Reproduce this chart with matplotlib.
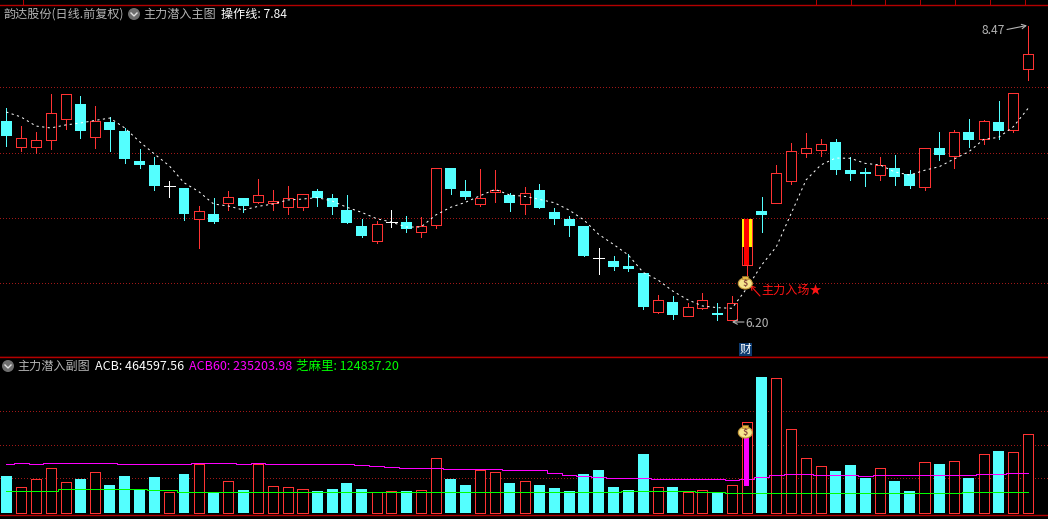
import matplotlib
matplotlib.use("Agg")
import matplotlib.pyplot as plt
import numpy as np
from matplotlib.patches import Circle, Ellipse, Rectangle
from matplotlib.lines import Line2D
from matplotlib.transforms import Affine2D

plt.rcParams['font.family'] = ['Noto Sans CJK SC', 'DejaVu Sans']

# daily candles
opens = [7.742, 7.546, 7.546, 7.594, 7.760, 7.872, 7.622, 7.735, 7.666, 7.436,
         7.406, 7.245, 7.230, 6.995, 7.031, 7.117, 7.153, 7.125, 7.115, 7.087,
         7.087, 7.207, 7.153, 7.061, 6.939, 6.827, 6.967, 6.969, 6.893, 6.946,
         7.383, 7.207, 7.107, 7.199, 7.176, 7.107, 7.214, 7.046, 6.992, 6.939,
         6.691, 6.671, 6.633, 6.579, 6.283, 6.357, 6.253, 6.311, 6.273, 6.222,
         6.640, 7.054, 7.117, 7.286, 7.500, 7.523, 7.582, 7.367, 7.350, 7.329,
         7.383, 7.337, 7.240, 7.536, 7.477, 7.658, 7.607, 7.735, 7.676, 8.143]
closes = [7.628, 7.610, 7.594, 7.801, 7.946, 7.666, 7.740, 7.673, 7.452, 7.406,
          7.245, 7.245, 7.031, 7.051, 6.969, 7.158, 7.092, 7.173, 7.130, 7.151,
          7.181, 7.153, 7.084, 6.962, 6.862, 6.951, 6.967, 6.916, 6.939, 7.380,
          7.222, 7.161, 7.153, 7.214, 7.115, 7.191, 7.077, 6.992, 6.939, 6.709,
          6.691, 6.625, 6.610, 6.319, 6.370, 6.258, 6.316, 6.370, 6.258, 6.347,
          6.992, 7.023, 7.342, 7.510, 7.533, 7.564, 7.367, 7.337, 7.339, 7.403,
          7.314, 7.245, 7.533, 7.482, 7.656, 7.597, 7.740, 7.666, 7.954, 8.253]
highs = [7.842, 7.704, 7.658, 7.949, 7.946, 7.934, 7.857, 7.770, 7.689, 7.528,
         7.467, 7.283, 7.230, 7.092, 7.153, 7.207, 7.153, 7.298, 7.214, 7.245,
         7.181, 7.222, 7.184, 7.176, 6.992, 6.977, 7.061, 7.015, 7.008, 7.380,
         7.383, 7.291, 7.375, 7.367, 7.191, 7.237, 7.260, 7.077, 7.015, 6.939,
         6.771, 6.709, 6.725, 6.579, 6.411, 6.403, 6.350, 6.426, 6.350, 6.403,
         6.992, 7.161, 7.406, 7.574, 7.651, 7.605, 7.605, 7.467, 7.380, 7.467,
         7.482, 7.367, 7.533, 7.658, 7.673, 7.758, 7.750, 7.895, 7.954, 8.470]
lows = [7.551, 7.513, 7.497, 7.528, 7.681, 7.612, 7.536, 7.513, 7.421, 7.383,
        7.214, 7.161, 6.985, 6.771, 6.962, 7.061, 7.046, 7.115, 7.061, 7.031,
        7.061, 7.092, 7.031, 6.962, 6.855, 6.809, 6.931, 6.893, 6.855, 6.923,
        7.184, 7.145, 7.092, 7.122, 7.054, 7.031, 7.077, 6.954, 6.862, 6.709,
        6.572, 6.602, 6.594, 6.304, 6.273, 6.227, 6.253, 6.304, 6.219, 6.222,
        6.564, 6.893, 7.117, 7.260, 7.467, 7.475, 7.337, 7.291, 7.245, 7.291,
        7.253, 7.230, 7.214, 7.444, 7.383, 7.543, 7.566, 7.605, 7.658, 8.056]
op_line = [7.811, 7.773, 7.704, 7.689, 7.712, 7.727, 7.747, 7.765, 7.689, 7.584,
           7.490, 7.400, 7.270, 7.202, 7.107, 7.092, 7.061, 7.089, 7.107, 7.138,
           7.145, 7.156, 7.130, 7.082, 7.043, 6.995, 6.969, 6.931, 6.931, 7.023,
           7.082, 7.120, 7.171, 7.219, 7.176, 7.166, 7.143, 7.117, 7.061, 6.985,
           6.875, 6.798, 6.717, 6.584, 6.526, 6.441, 6.375, 6.327, 6.314, 6.309,
           6.462, 6.640, 6.781, 7.036, 7.291, 7.406, 7.459, 7.457, 7.418, 7.406,
           7.352, 7.329, 7.365, 7.393, 7.452, 7.508, 7.602, 7.617, 7.699, 7.840]
price_grid = [6.5, 7.0, 7.5, 8.0]

# lower panel
acb = [218670, 151690, 198970, 263980, 181240, 200940, 240340, 165480, 218670, 135930,
       212760, 122140, 230490, 287620, 118200, 187150, 135930, 287620, 157600, 151690,
       139870, 130020, 141840, 177300, 141840, 122140, 128050, 130020, 133960, 323080,
       200940, 165480, 252160, 240340, 177300, 187150, 165480, 147750, 130020, 230490,
       254130, 153660, 135930, 348690, 151690, 153660, 122140, 133960, 122140, 163510,
       535840, 803760, 795880, 494470, 323080, 275800, 248220, 283680, 206850, 263980,
       189120, 130020, 299440, 289590, 305350, 206850, 346720, 366420, 358540, 464597.56]
acb_kind = list("crrrrcrccccrcrcrcrrrrccccrrcrrccrrcrccccccc"
                "crcrrcrrcrrrrccc" "rccrcrcrcrr")
acb60 = [287620, 293530, 287620, 293530, 293530, 293530, 293530, 293530, 287620, 287620,
         287620, 287620, 287620, 293530, 293530, 293530, 287620, 293530, 287620, 287620,
         287620, 287620, 287620, 287620, 281710, 275800, 269890, 263980, 263980, 263980,
         258070, 258070, 258070, 258070, 252160, 252160, 252160, 234430, 222610, 216700,
         210790, 204880, 204880, 204880, 198970, 198970, 198970, 198970, 198970, 193060,
         198970, 210790, 222610, 228520, 228520, 222610, 222610, 222610, 216700, 222610,
         222610, 222610, 222610, 222610, 222610, 222610, 228520, 228520, 235203.98, 235203.98]
sesame = [128050, 128050, 128050, 128050, 139870, 139870, 139870, 139870, 139870, 139870,
          133960, 133960, 122140, 122140, 122140, 122140, 122140, 122140, 122140, 122140,
          122140, 122140, 122140, 122140, 122140, 122140, 122140, 122140, 122140, 122140,
          122140, 122140, 122140, 122140, 122140, 122140, 122140, 122140, 122140, 122140,
          122140, 122140, 128050, 128050, 128050, 128050, 128050, 122140, 122140, 116230,
          116230, 116230, 116230, 116230, 116230, 116230, 116230, 116230, 116230, 116230,
          116230, 116230, 116230, 116230, 116230, 124837.2, 124837.2, 124837.2, 124837.2, 124837.2]
acb_grid = [205000, 400000, 601000]

signal_day = 50
signal_yellow_low = 6.778
signal_acb = (159570, 445220)

RED = '#ff3333'
CYAN = '#54ffff'
BORDER = '#b40000'
GRID = '#a01818'
GREY = '#b4b4b4'
PX = 0.72  # one pixel in points at dpi 100

n_days = len(opens)
x = np.arange(n_days)

fig = plt.figure(figsize=(10.48, 5.19), dpi=100, facecolor='black')
to_px = Affine2D().scale(1, -1).translate(0, 519)  # pixels from the top left


def make_panel(top, bottom):
    ax = fig.add_axes([0, 1 - bottom / 519, 1, (bottom - top) / 519], facecolor='black')
    ax.set_xlim(-6.3 / 14.81, (1048 - 6.3) / 14.81)
    ax.set_xticks([])
    for side in ['left', 'right']:
        ax.spines[side].set_visible(False)
    for side in ['top', 'bottom']:
        ax.spines[side].set_color(BORDER)
        ax.spines[side].set_linewidth(PX * 1.4)
    ax.tick_params(axis='y', length=0, labelleft=False)
    ax.grid(axis='y', color=GRID, linewidth=PX, linestyle=(0, (1, 2.2)), antialiased=False)
    ax.set_axisbelow(True)
    return ax


ax = make_panel(4.5, 357.3)
ax.set_ylim(5.934, 8.634)
ax.set_yticks(price_grid)

# Candles
for i in x:
    o, c, h, l = opens[i], closes[i], highs[i], lows[i]
    if o == c:
        color = 'white'
    elif c > o:
        color = RED
    else:
        color = CYAN
    ax.vlines(i, l, h, color=color, linewidth=PX, zorder=2, antialiased=False)
    if o == c:
        ax.hlines(o, i - 0.36, i + 0.36, color=color, linewidth=PX, zorder=3, antialiased=False)
    elif c > o:
        ax.bar(i, c - o, bottom=o, width=0.68, facecolor='black', edgecolor=RED,
               linewidth=PX, zorder=3, antialiased=False)
    else:
        ax.bar(i, o - c, bottom=c, width=0.74, color=CYAN, zorder=3, antialiased=False)

# Entry day candle with the yellow and red stick
ax.bar(signal_day, closes[signal_day] - signal_yellow_low, bottom=signal_yellow_low,
       width=0.68, color='#ffee00', zorder=3.1, antialiased=False)
ax.bar(signal_day, closes[signal_day] - opens[signal_day], bottom=opens[signal_day],
       width=0.34, color='#ff0000', zorder=3.2, antialiased=False)

ax.plot(x, op_line, color='white', linewidth=PX, linestyle=(0, (2.2, 3.4)), zorder=4)

ax2 = make_panel(357.3, 515.3)
ax2.set_ylim(-13600, 920200)
ax2.set_yticks(acb_grid)

for i in x:
    if acb_kind[i] == 'r':
        ax2.bar(i, acb[i], width=0.68, facecolor='black', edgecolor=RED,
                linewidth=PX, zorder=3, antialiased=False)
    else:
        ax2.bar(i, acb[i], width=0.74, color=CYAN, zorder=3, antialiased=False)

ax2.bar(signal_day, signal_acb[1] - signal_acb[0], bottom=signal_acb[0], width=0.34,
        color='#ff00ff', zorder=3.5, antialiased=False)
ax2.plot(x, acb60, color='#ff00ff', linewidth=PX, drawstyle='steps-mid', zorder=4)
ax2.plot(x, sesame, color='#00ff00', linewidth=PX, drawstyle='steps-mid', zorder=4)


def label(px_x, px_y, s, color, size=8.7, **kw):
    fig.text(px_x / 1048, 1 - px_y / 519, s, color=color, fontsize=size,
             va='center', ha='left', **kw)


def menu_icon(cx, cy):
    fig.add_artist(Circle((cx, cy), 6, transform=to_px, facecolor='#6e6e6e', edgecolor='none'))
    fig.add_artist(Line2D([cx - 3, cx, cx + 3], [cy - 1, cy + 2, cy - 1], transform=to_px,
                          color='#e0e0e0', linewidth=1.0))


def money_bag(cx, cy):
    fig.add_artist(Ellipse((cx, cy + 1.5), 14, 11, transform=to_px, facecolor='#f6e68c',
                           edgecolor='#c89a3c', linewidth=0.8))
    fig.add_artist(Rectangle((cx - 3, cy - 6.5), 6, 3.5, transform=to_px, facecolor='#e2b640',
                             edgecolor='#a87a30', linewidth=0.5))
    fig.text(cx / 1048, 1 - (cy + 1.5) / 519, '$', color='#8c4a3c', fontsize=6.5,
             fontweight='bold', ha='center', va='center', zorder=5)


def arrow(x0, y0, x1, y1, color):
    ax.annotate('', xy=(x1, 519 - y1), xytext=(x0, 519 - y0), xycoords='figure pixels',
                textcoords='figure pixels', zorder=6, annotation_clip=False,
                arrowprops=dict(arrowstyle='->,head_length=0.3,head_width=0.16', color=color,
                                linewidth=0.8, shrinkA=0, shrinkB=0))


# Header rows
label(3, 14, '韵达股份(日线.前复权)', GREY)
menu_icon(134, 14)
label(143.5, 14, '主力潜入主图', GREY)
label(221, 14, '操作线: 7.84', 'white')

menu_icon(8, 366)
label(17.5, 366, '主力潜入副图', GREY)
label(95, 366, 'ACB: 464597.56', 'white', size=9)
label(189, 366, 'ACB60: 235203.98', '#ff00ff', size=9)
label(296, 366, '芝麻里: 124837.20', '#00ff00', size=9)

# Top edge ticks
for tick_x in [23.3, 816.3, 850.6, 885.3, 920.3, 955.3, 990.3, 1025.3]:
    fig.add_artist(Line2D([tick_x, tick_x], [0, 4.5], transform=to_px, color=BORDER, linewidth=PX))

# Annotations
label(982, 30, '8.47', GREY)
arrow(1007, 29.5, 1027, 25.5, GREY)
label(745, 323.5, '6.20', GREY)
arrow(744, 322, 732, 322, GREY)
label(761, 290, '主力入场★', '#ff1414')
arrow(760, 296, 750, 285, '#ff1414')

money_bag(745.3, 282)
money_bag(745.3, 431)

fig.add_artist(Rectangle((739, 343.3), 12.7, 12.4, transform=to_px, facecolor='#0c3a70', edgecolor='none'))
fig.text(745.3 / 1048, 1 - 349.5 / 519, '财', color='white', fontsize=8.4, ha='center', va='center', zorder=5)

fig.savefig('out.png', dpi=100, facecolor='black')
